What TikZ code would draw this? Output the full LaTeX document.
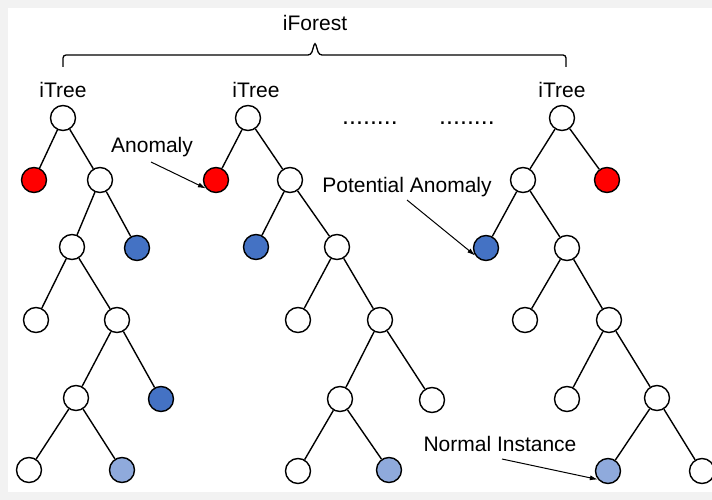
\documentclass[tikz,border=0pt]{standalone}
\usepackage{fontspec}
\setmainfont{Liberation Sans}
\usetikzlibrary{arrows.meta}

\definecolor{anomred}{HTML}{FF0000}
\definecolor{potblue}{HTML}{4472C4}
\definecolor{normblue}{HTML}{8FAADC}
\definecolor{framegray}{HTML}{F2F2F2}

\tikzset{
  tnode/.style={circle, draw=black, line width=1.4pt, fill=white, minimum size=25pt, inner sep=0pt},
  anom/.style={tnode, fill=anomred},
  potanom/.style={tnode, fill=potblue},
  normal/.style={tnode, fill=normblue},
  link/.style={line width=1.4pt},
  callout/.style={line width=1pt, -{Latex[length=8pt,width=5pt]}},
  lbl/.style={font=\fontsize{21}{25}\selectfont, inner sep=0pt, anchor=base},
  gapdots/.style={font=\fontsize{25}{30}\selectfont, inner sep=0pt, anchor=base},
}

\begin{document}
\begin{tikzpicture}[x=1pt, y=-1pt]
    \useasboundingbox (0,0) rectangle (712,500);
    % Frame
    \fill[framegray] (0,0) rectangle (712,500);
    \fill[white] (8,8) rectangle (712,492);

    % Forest brace
    \draw[line width=1.3pt, rounded corners=3pt] (63,67) |- (311,55) -- (315,42) -- (319,55) -| (566,67);
    \node[lbl] (forest) at (315,31) {iForest};

    % Tree labels
    \node[lbl] (tree1) at (63,98) {iTree};
    \node[lbl] (tree2) at (256,98) {iTree};
    \node[lbl] (tree3) at (562,98) {iTree};
    \node[gapdots] (gap1) at (370,124.5) {........};
    \node[gapdots] (gap2) at (467,124.5) {........};

    % iTree 1
    \node[tnode]   (t1r) at (63,118) {};
    \node[anom]    (t1a) at (34,180) {};
    \node[tnode]   (t1b) at (100,180) {};
    \node[tnode]   (t1c) at (72,247) {};
    \node[potanom] (t1d) at (137,248) {};
    \node[tnode]   (t1e) at (36,320) {};
    \node[tnode]   (t1f) at (117,320) {};
    \node[tnode]   (t1g) at (76,398) {};
    \node[potanom] (t1h) at (161,399) {};
    \node[tnode]   (t1i) at (29,470) {};
    \node[normal]  (t1j) at (122,470) {};
    \foreach \p/\c in {r/a, r/b, b/c, b/d, c/e, c/f, f/g, f/h, g/i, g/j}
        \draw[link] (t1\p) -- (t1\c);

    % iTree 2
    \node[tnode]   (t2r) at (248,118) {};
    \node[anom]    (t2a) at (216,180) {};
    \node[tnode]   (t2b) at (290,180) {};
    \node[potanom] (t2c) at (256,247) {};
    \node[tnode]   (t2d) at (337,247) {};
    \node[tnode]   (t2e) at (298,320) {};
    \node[tnode]   (t2f) at (380,320) {};
    \node[tnode]   (t2g) at (340,399) {};
    \node[tnode]   (t2h) at (432,400) {};
    \node[tnode]   (t2i) at (298,471) {};
    \node[normal]  (t2j) at (389,470) {};
    \foreach \p/\c in {r/a, r/b, b/c, b/d, d/e, d/f, f/g, f/h, g/i, g/j}
        \draw[link] (t2\p) -- (t2\c);

    % iTree 3
    \node[tnode]   (t3r) at (562,118) {};
    \node[tnode]   (t3a) at (523,180) {};
    \node[anom]    (t3b) at (607,180) {};
    \node[potanom] (t3c) at (486,248) {};
    \node[tnode]   (t3d) at (567,248) {};
    \node[tnode]   (t3e) at (525,320) {};
    \node[tnode]   (t3f) at (609,320) {};
    \node[tnode]   (t3g) at (567,399) {};
    \node[tnode]   (t3h) at (657,398) {};
    \node[normal]  (t3i) at (608,471) {};
    \node[tnode]   (t3j) at (702,471) {};
    \foreach \p/\c in {r/a, r/b, a/c, a/d, d/e, d/f, f/g, f/h, h/i, h/j}
        \draw[link] (t3\p) -- (t3\c);

    % Callouts
    \node[lbl] (anomlbl) at (152,153) {Anomaly};
    \node[lbl] (potlbl) at (407,192) {Potential Anomaly};
    \node[lbl] (normlbl) at (500,451) {Normal Instance};
    \coordinate (anomtail) at (151,162);
    \coordinate (pottail) at (407,200);
    \coordinate (normtail) at (502,459);
    \draw[callout] (anomtail) -- (t2a.220);
    \draw[callout] (pottail) -- (t3c.215);
    \draw[callout] (normtail) -- (t3i.220);
\end{tikzpicture}
\end{document}
